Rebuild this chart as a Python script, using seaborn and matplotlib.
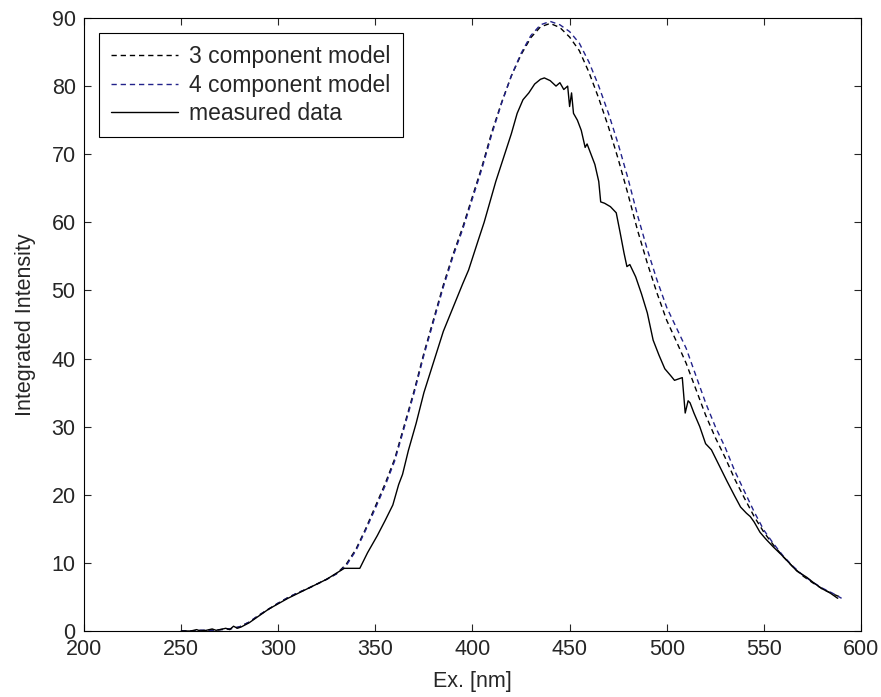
import numpy as np
import pandas as pd
import matplotlib
matplotlib.use("Agg")
import matplotlib.pyplot as plt
import seaborn as sns

# Model curves sampled every 5 nm
model_wl = [250, 255, 260, 265, 270, 275, 280, 285, 290, 295, 300, 305, 310, 315,
            320, 325, 330, 335, 340, 345, 350, 355, 360, 365, 370, 375, 380, 385,
            390, 395, 400, 405, 410, 415, 420, 425, 430, 435, 440, 445, 450, 455,
            460, 465, 470, 475, 480, 485, 490, 495, 500, 505, 510, 515, 520, 525,
            530, 535, 540, 545, 550, 555, 560, 565, 570, 575, 580, 585, 590]

model4 = [0.0, 0.0, 0.1, 0.1, 0.2, 0.3, 0.6, 1.3, 2.3, 3.2, 4.1, 4.9, 5.6, 6.2,
          6.9, 7.6, 8.4, 9.6, 11.8, 14.8, 18.0, 21.3, 25.0, 30.0, 35.0, 40.5, 45.5, 50.5,
          55.0, 59.0, 63.5, 68.0, 73.0, 77.5, 81.5, 84.8, 87.4, 89.0, 89.5, 89.0, 88.0, 86.3,
          83.5, 80.0, 76.0, 71.5, 66.5, 61.0, 56.0, 51.5, 47.5, 44.5, 41.5, 37.5, 33.5, 30.0,
          27.0, 23.5, 20.5, 17.5, 14.8, 12.8, 11.0, 9.5, 8.2, 7.2, 6.3, 5.6, 4.8]

model3 = [0.0, 0.0, 0.1, 0.1, 0.2, 0.3, 0.6, 1.3, 2.3, 3.2, 4.1, 4.9, 5.6, 6.2,
          6.9, 7.6, 8.4, 9.8, 12.0, 15.0, 18.3, 21.6, 25.3, 30.3, 35.3, 40.8, 45.8, 50.8,
          55.3, 59.3, 63.8, 68.3, 73.3, 77.6, 81.5, 84.6, 87.1, 88.7, 89.2, 88.6, 87.2, 85.2,
          82.0, 78.2, 74.0, 69.3, 64.2, 58.8, 54.0, 49.6, 45.6, 42.5, 39.3, 35.5, 31.7, 28.4,
          25.5, 22.3, 19.5, 16.8, 14.5, 12.6, 10.9, 9.4, 8.1, 7.1, 6.2, 5.5, 4.9]

# Measured integrated intensity
meas_wl = [250, 255, 258, 260, 263, 266, 268, 270, 273, 275, 277, 279, 281, 285,
           290, 295, 300, 305, 310, 315, 320, 325, 330, 334, 342, 346, 351, 355,
           359, 362, 364, 367, 371, 375, 380, 385, 390, 395, 398, 403, 406, 409,
           412, 416, 420, 423, 426, 429, 432, 435, 437, 440, 443, 445, 447, 449,
           450, 451, 452, 454, 456, 458, 459, 461, 463, 465, 466, 468, 471, 474,
           476, 478, 479.5, 481, 484, 487, 490, 493, 496, 499, 502, 504, 506, 508,
           509.5, 511, 512, 514, 517, 520, 523, 527, 531, 535, 538, 541, 543, 545,
           548, 551, 555, 559, 563, 567, 572, 576, 580, 584, 588]

measured = [0.0, 0.0, 0.2, 0.0, 0.1, 0.3, 0.1, 0.2, 0.4, 0.2, 0.7, 0.4, 0.6, 1.2,
            2.2, 3.2, 4.0, 4.8, 5.5, 6.2, 6.9, 7.6, 8.5, 9.2, 9.2, 11.5, 14.0, 16.2,
            18.5, 21.5, 23.0, 26.5, 30.5, 35.0, 39.5, 44.0, 47.5, 51.0, 53.0, 57.4, 60.0, 63.0,
            66.0, 69.5, 73.0, 76.0, 78.0, 79.0, 80.3, 81.0, 81.2, 80.8, 80.0, 80.5, 79.5, 80.0,
            77.0, 79.0, 76.0, 75.0, 73.5, 71.0, 71.5, 70.0, 68.5, 66.0, 63.0, 62.8, 62.3, 61.4,
            58.5, 55.5, 53.5, 53.8, 52.0, 49.5, 46.7, 42.7, 40.5, 38.5, 37.5, 36.8, 37.0, 37.2,
            32.0, 33.8, 33.5, 32.0, 30.0, 27.5, 26.6, 24.3, 22.0, 19.8, 18.2, 17.3, 16.8, 16.0,
            14.5, 13.5, 12.3, 11.2, 10.0, 8.8, 7.9, 7.0, 6.2, 5.6, 4.8]

x_ticks = [200, 250, 300, 350, 400, 450, 500, 550, 600]
y_ticks = [0, 10, 20, 30, 40, 50, 60, 70, 80, 90]

FS = 15.5
LEG_FS = 16.5

sns.set_style("ticks")
plt.rcParams["font.family"] = ["Liberation Sans", "DejaVu Sans"]
plt.rcParams["xtick.direction"] = "in"
plt.rcParams["ytick.direction"] = "in"

fig = plt.figure(figsize=(8.81, 6.97), dpi=100, facecolor="white")
ax = fig.add_axes([0.0953, 0.0947, 0.8820, 0.8795])

models = pd.DataFrame({"wl": model_wl, "m3": model3, "m4": model4})
meas = pd.DataFrame({"wl": meas_wl, "val": measured})

dash = (0, (3.8, 2.8))
sns.lineplot(data=models, x="wl", y="m3", ax=ax, color="black", lw=1.0,
             linestyle=dash, label="3 component model", estimator=None)
sns.lineplot(data=models, x="wl", y="m4", ax=ax, color="#22228a", lw=1.0,
             linestyle=dash, label="4 component model", estimator=None)
sns.lineplot(data=meas, x="wl", y="val", ax=ax, color="black", lw=1.0,
             label="measured data", estimator=None)

ax.set_xlim(200, 600)
ax.set_ylim(0, 90)
ax.set_xticks(x_ticks)
ax.set_yticks(y_ticks)
ax.tick_params(axis="both", labelsize=FS, length=5, width=0.8,
               top=True, right=True, pad=6)
for s in ax.spines.values():
    s.set_visible(True)
    s.set_linewidth(0.8)
    s.set_color("black")
ax.set_xlabel("Ex. [nm]", fontsize=FS, labelpad=8)
ax.set_ylabel("Integrated Intensity", fontsize=FS, labelpad=11)

leg = ax.legend(loc="upper left", fontsize=LEG_FS, frameon=True, fancybox=False,
                framealpha=1, edgecolor="black", handlelength=2.9,
                borderaxespad=0.65, borderpad=0.55, labelspacing=0.22,
                handletextpad=0.5)
leg.get_frame().set_linewidth(0.8)

fig.savefig("out.png", dpi=100, facecolor="white")
